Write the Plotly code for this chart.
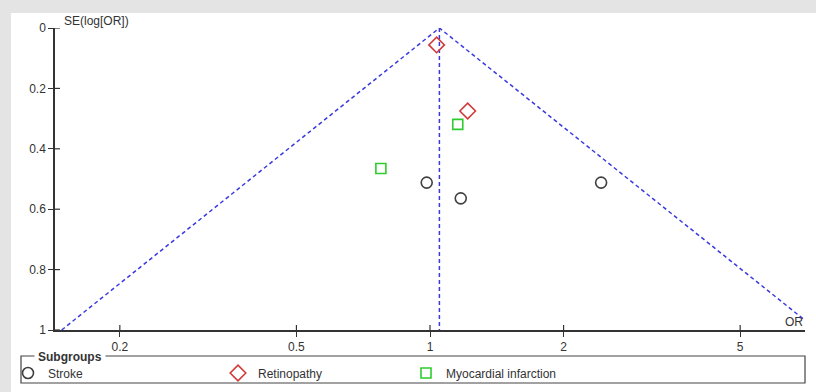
import numpy as np
import plotly.graph_objects as go

# Study estimates (odds ratio, standard error of log OR) by subgroup
stroke_or = [0.983, 1.173, 2.43]
stroke_se = [0.512, 0.564, 0.512]
retino_or = [1.035, 1.216]
retino_se = [0.056, 0.275]
mi_or = [1.155, 0.775]
mi_se = [0.319, 0.465]

pooled_or = 1.05
se_max = 1.0
x_ticks = [0.2, 0.5, 1, 2, 5]
y_ticks = [0, 0.2, 0.4, 0.6, 0.8, 1]

W, H = 816, 392
ML, MR, MT, MB = 55, 11, 28, 62
PW, PH = W - ML - MR, H - MT - MB


def px_x(p):
    return (p - ML) / PW


def px_y(p):
    return (H - MB - p) / PH


axis_col = "#333333"
font = dict(family="Liberation Sans, Arial, sans-serif", size=12, color="#333333")

fig = go.Figure()

# Funnel (95% pseudo-confidence limits) and pooled estimate line
se_line = np.array([0.0, se_max])
lo = np.exp(np.log(pooled_or) - 1.96 * se_line)
hi = np.exp(np.log(pooled_or) + 1.96 * se_line)
line_style = dict(color="#3a3ae0", width=1.5, dash="4px,3px")
fig.add_trace(go.Scatter(x=[lo[1], lo[0], hi[1]], y=[se_line[1], se_line[0], se_line[1]],
                         mode="lines", line=line_style, showlegend=False, hoverinfo="skip"))
fig.add_trace(go.Scatter(x=[pooled_or, pooled_or], y=[0, se_max], mode="lines",
                         line=line_style, showlegend=False, hoverinfo="skip"))

fig.add_trace(go.Scatter(x=stroke_or, y=stroke_se, mode="markers", name="Stroke",
                         legend="legend",
                         marker=dict(symbol="circle-open", size=11, color="#404040",
                                     line=dict(width=1.6))))
fig.add_trace(go.Scatter(x=retino_or, y=retino_se, mode="markers", name="Retinopathy",
                         legend="legend2",
                         marker=dict(symbol="diamond-open", size=12, color="#d23a3a",
                                     line=dict(width=1.6))))
fig.add_trace(go.Scatter(x=mi_or, y=mi_se, mode="markers", name="Myocardial infarction",
                         legend="legend3",
                         marker=dict(symbol="square-open", size=10, color="#2ecc2e",
                                     line=dict(width=1.6))))

shapes = [
    # white panel over the grey page
    dict(type="rect", xref="paper", yref="paper", x0=px_x(11), x1=px_x(W + 2),
         y0=px_y(H + 2), y1=px_y(13), fillcolor="white", line=dict(width=0), layer="below"),
    # legend frame
    dict(type="rect", xref="paper", yref="paper", x0=px_x(21), x1=px_x(805),
         y0=px_y(383), y1=px_y(356), line=dict(color="#444444", width=1.2)),
]
# inner halves of the crossing tick marks
for v in x_ticks:
    shapes.append(dict(type="line", xref="x", yref="paper", x0=v, x1=v,
                       y0=0, y1=5 / PH, line=dict(color=axis_col, width=1.2)))
for v in y_ticks:
    shapes.append(dict(type="line", xref="paper", yref="y", x0=0, x1=5 / PW,
                       y0=v, y1=v, line=dict(color=axis_col, width=1.2)))

annotations = [
    dict(text="SE(log[OR])", xref="paper", yref="paper", x=px_x(62), y=px_y(21),
         xanchor="left", yanchor="middle", showarrow=False, font=font),
    dict(text="OR", xref="paper", yref="paper", x=1.0, y=px_y(322),
         xanchor="right", yanchor="middle", showarrow=False, font=font),
    dict(text="<b>Subgroups</b>", xref="paper", yref="paper", x=px_x(34), y=px_y(357),
         xanchor="left", yanchor="middle", showarrow=False, font=font,
         bgcolor="white", bordercolor="rgba(0,0,0,0)", borderpad=3),
]


def legend_at(px_left):
    return dict(orientation="h", x=px_x(px_left), y=px_y(373), xanchor="left",
                yanchor="middle", bgcolor="rgba(0,0,0,0)", font=font, itemclick=False)


fig.update_layout(
    width=W, height=H,
    margin=dict(l=ML, r=MR, t=MT, b=MB, autoexpand=False),
    paper_bgcolor="#e4e4e4", plot_bgcolor="white",
    font=font,
    shapes=shapes, annotations=annotations,
    legend=legend_at(8),
    legend2=legend_at(218),
    legend3=legend_at(406),
    xaxis=dict(type="log", range=[np.log10(1 / 7), np.log10(7)],
               tickvals=x_ticks, ticktext=[str(v) for v in x_ticks],
               showgrid=False, zeroline=False, showline=True, linecolor=axis_col,
               linewidth=1.5, ticks="outside", ticklen=5, tickcolor=axis_col,
               tickwidth=1.2, tickfont=font),
    yaxis=dict(range=[1, 0], tickvals=y_ticks, ticktext=["0", "0.2", "0.4", "0.6", "0.8", "1"],
               showgrid=False, zeroline=False, showline=True, linecolor=axis_col,
               linewidth=1.5, ticks="outside", ticklen=5, tickcolor=axis_col,
               tickwidth=1.2, tickfont=font),
)

fig.write_html("out.html")
